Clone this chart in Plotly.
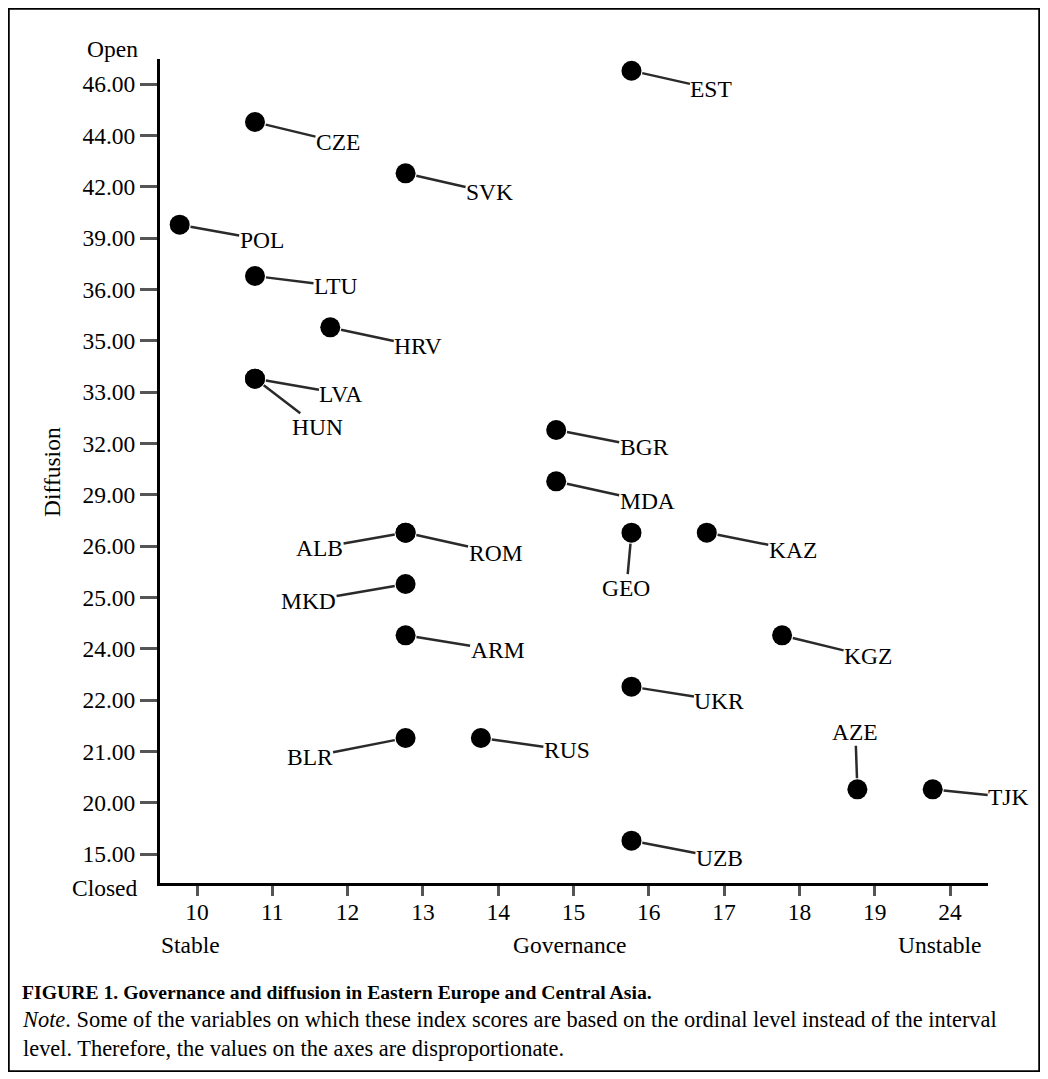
import plotly.graph_objects as go

# ---- data -------------------------------------------------------------
countries = ["EST", "CZE", "SVK", "POL", "LTU", "HRV", "LVA", "HUN", "BGR", "MDA",
             "ALB", "ROM", "GEO", "KAZ", "MKD", "ARM", "KGZ", "UKR", "BLR", "RUS",
             "AZE", "TJK", "UZB"]
governance = [16, 11, 13, 10, 11, 12, 11, 11, 15, 15,
              13, 13, 16, 17, 13, 13, 18, 16, 13, 14,
              19, 24, 16]
diffusion = [46, 44, 42, 39, 36, 35, 33, 33, 32, 29,
             26, 26, 26, 26, 25, 24, 24, 22, 21, 21,
             20, 20, 15]
gov_ticks = [10, 11, 12, 13, 14, 15, 16, 17, 18, 19, 24]
dif_ticks = [15, 20, 21, 22, 24, 25, 26, 29, 32, 33, 35, 36, 39, 42, 44, 46]

# label placement (pixel offset of label centre from the marker)
label_offsets = {
    "EST": (80, 18), "CZE": (83, 20), "SVK": (84, 19), "POL": (82, 15),
    "LTU": (81, 10), "HRV": (88, 19), "LVA": (86, 15), "HUN": (63, 48),
    "BGR": (88, 17), "MDA": (91, 20), "ALB": (-86, 15), "ROM": (90, 20),
    "GEO": (-5, 55), "KAZ": (86, 17), "MKD": (-97, 17), "ARM": (92, 15),
    "KGZ": (86, 21), "UKR": (88, 14), "BLR": (-96, 19), "RUS": (86, 12),
    "AZE": (-2, -57), "TJK": (76, 8), "UZB": (88, 17),
}

# ---- ordinal scales (axes are disproportionate) ------------------------
def ordinal(value, ticks):
    """Position of a value on an ordinal axis whose ticks are equally spaced."""
    if value in ticks:
        return float(ticks.index(value))
    for i in range(len(ticks) - 1):
        if ticks[i] < value < ticks[i + 1]:
            return i + (value - ticks[i]) / (ticks[i + 1] - ticks[i])
    return float(len(ticks) - 1)

X_SHIFT = -0.23   # markers are drawn slightly left of the tick
Y_SHIFT = 0.26    # and slightly above it
xs = [ordinal(g, gov_ticks) + X_SHIFT for g in governance]
ys = [ordinal(d, dif_ticks) + Y_SHIFT for d in diffusion]

FONT = "Liberation Serif, Times New Roman, serif"
OFF = 8                      # page body margin
W, H = 1048 - 2 * OFF, 1079 - 2 * OFF + 1

fig = go.Figure()
fig.add_trace(go.Scatter(
    x=xs, y=ys, mode="markers",
    marker=dict(size=20, color="black", line=dict(width=0)),
    hoverinfo="text", text=countries, showlegend=False,
))

annotations = []
for c, x, y in zip(countries, xs, ys):
    dx, dy = label_offsets[c]
    annotations.append(dict(
        x=x, y=y, xref="x", yref="y", text=c, showarrow=True,
        ax=dx, ay=dy, arrowhead=0, arrowwidth=2.5, arrowcolor="#2a2a2a",
        standoff=11, borderpad=0,
        font=dict(family=FONT, size=23.5, color="black"),
    ))

def px(xp, yp, text, size=23.5, xanchor="center", **kw):
    # xp, yp are page pixels
    return dict(x=(xp - OFF) / W, y=1 - (yp - OFF) / H, xref="paper", yref="paper",
                text=text, showarrow=False, xanchor=xanchor, yanchor="middle",
                font=dict(family=FONT, size=size, color="black"), **kw)

annotations += [
    px(112, 49, "Open"),
    px(105, 888, "Closed"),
    px(190, 945, "Stable"),
    px(570, 945, "Governance"),
    px(940, 945, "Unstable"),
    px(52, 472, "Diffusion", textangle=-90),
    px(20, 992, "<b>FIGURE 1. Governance and diffusion in Eastern Europe and Central Asia.</b>",
       size=19.7, xanchor="left"),
    px(20, 1034,
       "<i>Note</i>. Some of the variables on which these index scores are based on the ordinal level instead of the interval"
       "<br>level. Therefore, the values on the axes are disproportionate.",
       size=22.4, xanchor="left", align="left"),
]

# plot geometry in page pixels
x_left, x_right = 160, 988
y_top, y_bottom = 59, 882.5
x_spacing = 75.3
y_spacing = 51.33
x0_px, y0_px = 197, 854  # page pixel of first tick on each axis

fig.update_layout(
    width=W, height=H,
    margin=dict(l=0, r=0, t=0, b=0),
    paper_bgcolor="white", plot_bgcolor="white",
    font=dict(family=FONT, size=23.5, color="black"),
    xaxis=dict(
        domain=[(x_left - OFF) / W, (x_right - OFF) / W],
        range=[(x_left - x0_px) / x_spacing, (x_right - x0_px) / x_spacing],
        tickmode="array", tickvals=list(range(len(gov_ticks))),
        ticktext=[str(t) for t in gov_ticks],
        ticks="outside", ticklen=10, tickwidth=3, tickcolor="#555",
        ticklabelstandoff=-4,
        showline=True, linecolor="black", linewidth=3,
        showgrid=False, zeroline=False,
        tickfont=dict(family=FONT, size=23.5, color="black"),
    ),
    yaxis=dict(
        domain=[1 - (y_bottom - OFF) / H, 1 - (y_top - OFF) / H],
        range=[(y0_px - y_bottom) / y_spacing, (y0_px - y_top) / y_spacing],
        tickmode="array", tickvals=list(range(len(dif_ticks))),
        ticktext=[f"{t:.2f}" for t in dif_ticks],
        ticks="outside", ticklen=17, tickwidth=3, tickcolor="#555",
        showline=True, linecolor="black", linewidth=3,
        showgrid=False, zeroline=False,
        tickfont=dict(family=FONT, size=23.5, color="black"),
    ),
    annotations=annotations,
    shapes=[dict(type="rect", xref="paper", yref="paper",
                 x0=0.5 / W, x1=1 - 0.5 / W, y0=0.5 / H, y1=1 - 0.5 / H,
                 line=dict(color="black", width=2.5), fillcolor="rgba(0,0,0,0)")],
)

fig.write_html("out.html")
